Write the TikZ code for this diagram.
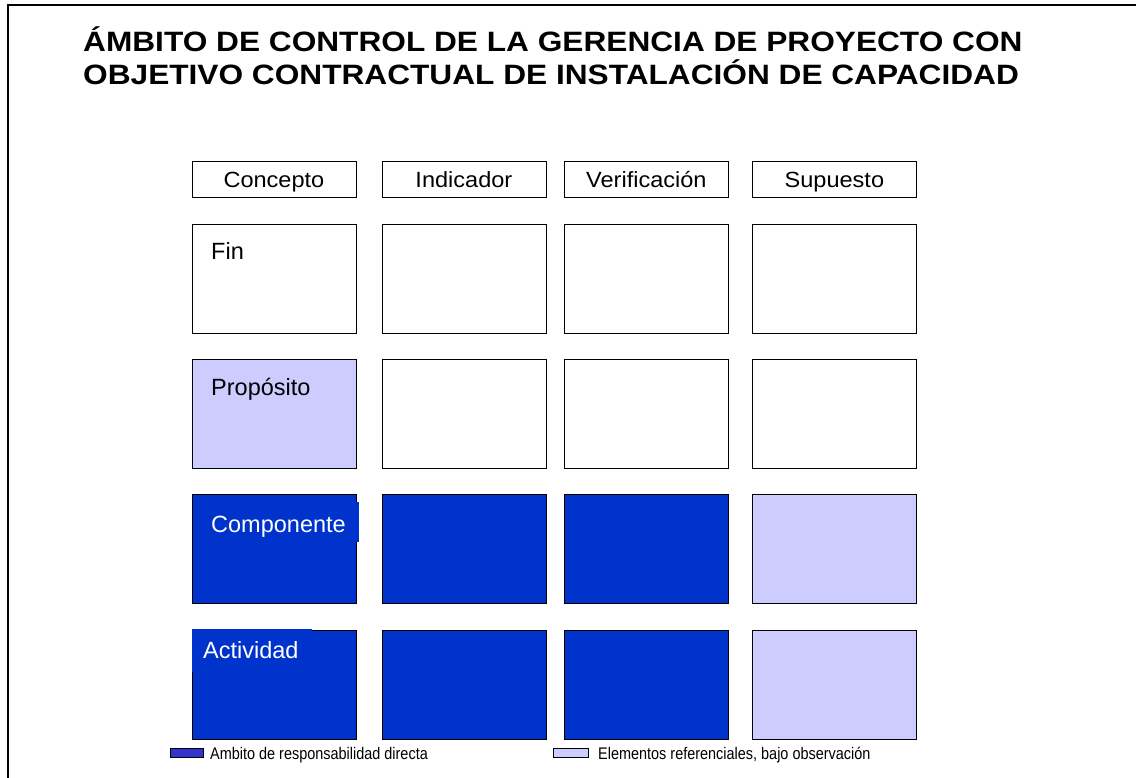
\documentclass[tikz,border=0pt]{standalone}
\usepackage{fontspec}
\setmainfont{Liberation Sans}
\newfontfamily\titlefont[FakeStretch=1.13]{Liberation Sans}
\newfontfamily\headfont[FakeStretch=1.07]{Liberation Sans}
\newfontfamily\legfont[FakeStretch=0.86]{Liberation Sans}
\definecolor{dblue}{HTML}{0033CC}
\definecolor{lblue}{HTML}{CCCCFF}
\definecolor{legblue}{HTML}{3333CC}
\begin{document}
\begin{tikzpicture}[x=1pt,y=-1pt,
  cell/.style={draw=black,line width=0.8pt,anchor=north west,inner sep=0pt,minimum width=164pt,minimum height=109pt},
  head/.style={draw=black,line width=0.8pt,anchor=north west,inner sep=0pt,minimum width=164pt,minimum height=36pt},
  htxt/.style={anchor=base,inner sep=0pt,font=\headfont\fontsize{22}{26}\selectfont},
  dcell/.style={cell,fill=dblue},
  lcell/.style={cell,fill=lblue},
  lab/.style={anchor=base west,inner sep=0pt,font=\fontsize{23.5}{28}\selectfont},
  leg/.style={anchor=base west,inner sep=0pt,font=\legfont\fontsize{16.8}{20}\selectfont},
  swatch/.style={draw=black,line width=0.6pt,anchor=north west,inner sep=0pt,minimum height=9pt},
  ttl/.style={anchor=base west,inner sep=0pt,font=\titlefont\bfseries\fontsize{28}{33}\selectfont}]
\useasboundingbox (0,0) rectangle (1136,778);
\draw[line width=1.6pt] (8,790) -- (8,5) -- (1145,5);
\node[ttl] (title1) at (83,52) {ÁMBITO DE CONTROL DE LA GERENCIA DE PROYECTO CON};
\node[ttl] (title2) at (83,85) {OBJETIVO CONTRACTUAL DE INSTALACIÓN DE CAPACIDAD};
% headers
\node[head] (h1) at (191.5,161) {};
\node[head] (h2) at (381.5,161) {};
\node[head] (h3) at (564,161) {};
\node[head] (h4) at (752,161) {};
\node[htxt] (t1) at (h1.center |- 0,188) {Concepto};
\node[htxt] (t2) at (h2.center |- 0,188) {Indicador};
\node[htxt] (t3) at (h3.center |- 0,188) {Verificación};
\node[htxt] (t4) at (h4.center |- 0,188) {Supuesto};
% row 1
\node[cell] (f1) at (191.5,224) {};
\node[cell] (f2) at (381.5,224) {};
\node[cell] (f3) at (564,224) {};
\node[cell] (f4) at (752,224) {};
\node[lab] (tfin) at (211,260) {Fin};
% row 2
\node[lcell] (p1) at (191.5,359) {};
\node[cell] (p2) at (381.5,359) {};
\node[cell] (p3) at (564,359) {};
\node[cell] (p4) at (752,359) {};
\node[lab] (tprop) at (211,395) {Propósito};
% row 3
\node[dcell] (c1) at (191.5,494) {};
\node[dcell] (c2) at (381.5,494) {};
\node[dcell] (c3) at (564,494) {};
\node[lcell] (c4) at (752,494) {};
\fill[dblue] (192.5,502) rectangle (359,541.5);
\node[lab,text=white] (tcomp) at (211,532) {Componente};
% row 4
\node[dcell] (a1) at (191.5,630) {};
\node[dcell] (a2) at (381.5,630) {};
\node[dcell] (a3) at (564,630) {};
\node[lcell] (a4) at (752,630) {};
\fill[dblue] (192.3,629.4) rectangle (312,672);
\node[lab,text=white] (tact) at (203,658) {Actividad};
% legend
\node[swatch,fill=legblue,minimum width=33pt] (s1) at (170,748) {};
\node[leg] (l1) at (210,759.5) {Ambito de responsabilidad directa};
\node[swatch,fill=lblue,minimum width=35pt] (s2) at (553,748) {};
\node[leg] (l2) at (598,759.5) {Elementos referenciales, bajo observación};
\end{tikzpicture}
\end{document}
